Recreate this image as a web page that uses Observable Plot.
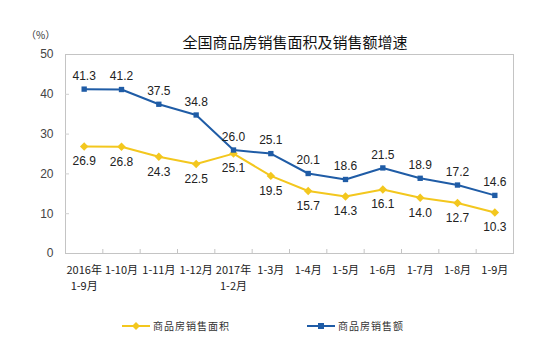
<!DOCTYPE html>
<html>
<head>
<meta charset="utf-8">
<script src="https://cdn.jsdelivr.net/npm/d3@7"></script>
<script src="https://cdn.jsdelivr.net/npm/@observablehq/plot@0.6"></script>
<style>
  html, body { margin: 0; padding: 0; background: #fff; }
  #wrap { position: relative; width: 550px; height: 357px; overflow: hidden; font-family: "Noto Sans CJK SC", sans-serif; }
  #title { position: absolute; left: 0; width: 590px; top: 32px; text-align: center; font-size: 15px; color: #111; line-height: 20px; }
  #unit { position: absolute; left: 26px; top: 28px; font-size: 10px; color: #333; line-height: 14px; }
  #legend { position: absolute; top: 316px; left: 0; width: 550px; height: 20px; }
  .li { position: absolute; top: 0; display: flex; align-items: center; font-size: 10px; color: #333; letter-spacing: 1px; line-height: 18px; }
  .li svg { margin-right: 3px; }
  #chart { position: absolute; left: 0; top: 0; }
</style>
</head>
<body>
<div id="wrap">
  <div id="chart"></div>
  <div id="title"></div>
  <div id="unit"></div>
  <div id="legend"></div>
</div>
<script>
const titleText = "全国商品房销售面积及销售额增速";
const unitText = "（%）";
const categories = ["2016年\n1-9月", "1-10月", "1-11月", "1-12月", "2017年\n1-2月", "1-3月", "1-4月", "1-5月", "1-6月", "1-7月", "1-8月", "1-9月"];
const areaName = "商品房销售面积";
const areaValues = [26.9, 26.8, 24.3, 22.5, 25.1, 19.5, 15.7, 14.3, 16.1, 14.0, 12.7, 10.3];
const amountName = "商品房销售额";
const amountValues = [41.3, 41.2, 37.5, 34.8, 26.0, 25.1, 20.1, 18.6, 21.5, 18.9, 17.2, 14.6];
const yTicks = [0, 10, 20, 30, 40, 50];

const areaColor = "#f3c71e";
const amountColor = "#1f5ca6";

const idx = categories.map((_, i) => i);
const bounds = idx.slice(0, -1).map(i => i + 0.5);
const area = idx.map(i => ({i, v: areaValues[i]}));
const amount = idx.map(i => ({i, v: amountValues[i]}));

const chart = Plot.plot({
  width: 550,
  height: 357,
  marginLeft: 65,
  marginRight: 37,
  marginTop: 54,
  marginBottom: 104,
  style: {fontFamily: "'Liberation Sans', Arial, sans-serif", background: "transparent"},
  x: {type: "linear", domain: [-0.5, categories.length - 0.5]},
  y: {domain: [0, 50]},
  marks: [
    Plot.frame({stroke: "#c4c4c4"}),
    Plot.axisY({ticks: yTicks, tickSize: 0, tickPadding: 12, fontSize: 12, color: "#444", label: null}),
    Plot.tickY(yTicks.slice(1, -1), {y: d => d, stroke: "#d0d0d0", insetRight: 448 - 4}),
    Plot.axisX({ticks: idx, tickFormat: i => categories[i], tickSize: 0, tickPadding: 10, fontSize: 11, lineHeight: 1.4, fontFamily: "'Noto Sans CJK SC', sans-serif", color: "#222", label: null}),
    Plot.tickX(bounds, {x: d => d, stroke: "#c4c4c4", insetTop: 199 - 4}),
    Plot.lineY(area, {x: "i", y: "v", stroke: areaColor, strokeWidth: 2}),
    Plot.dot(area, {x: "i", y: "v", symbol: "diamond2", fill: areaColor, r: 3.8, stroke: null}),
    Plot.lineY(amount, {x: "i", y: "v", stroke: amountColor, strokeWidth: 2}),
    Plot.dot(amount, {x: "i", y: "v", symbol: "square2", fill: amountColor, r: 3.4, stroke: null}),
    Plot.text(area, {x: "i", y: "v", text: d => d.v.toFixed(1), dy: 15, fontSize: 12, fill: "#222"}),
    Plot.text(amount, {x: "i", y: "v", text: d => d.v.toFixed(1), dy: -13, fontSize: 12, fill: "#222"})
  ]
});
document.getElementById("chart").appendChild(chart);
document.getElementById("title").textContent = titleText;
document.getElementById("unit").textContent = unitText;

const legendItems = [
  {name: areaName, color: areaColor, shape: "diamond", left: 122},
  {name: amountName, color: amountColor, shape: "square", left: 307}
];
const legend = document.getElementById("legend");
for (const it of legendItems) {
  const div = document.createElement("div");
  div.className = "li";
  div.style.left = it.left + "px";
  const marker = it.shape === "diamond"
    ? `<path d="M14,6 L18,10 L14,14 L10,10 Z" fill="${it.color}"/>`
    : `<rect x="11" y="7" width="6" height="6" fill="${it.color}"/>`;
  div.innerHTML = `<svg width="28" height="20"><line x1="0" x2="28" y1="10" y2="10" stroke="${it.color}" stroke-width="2"/>${marker}</svg><span>${it.name}</span>`;
  legend.appendChild(div);
}
</script>
</body>
</html>
